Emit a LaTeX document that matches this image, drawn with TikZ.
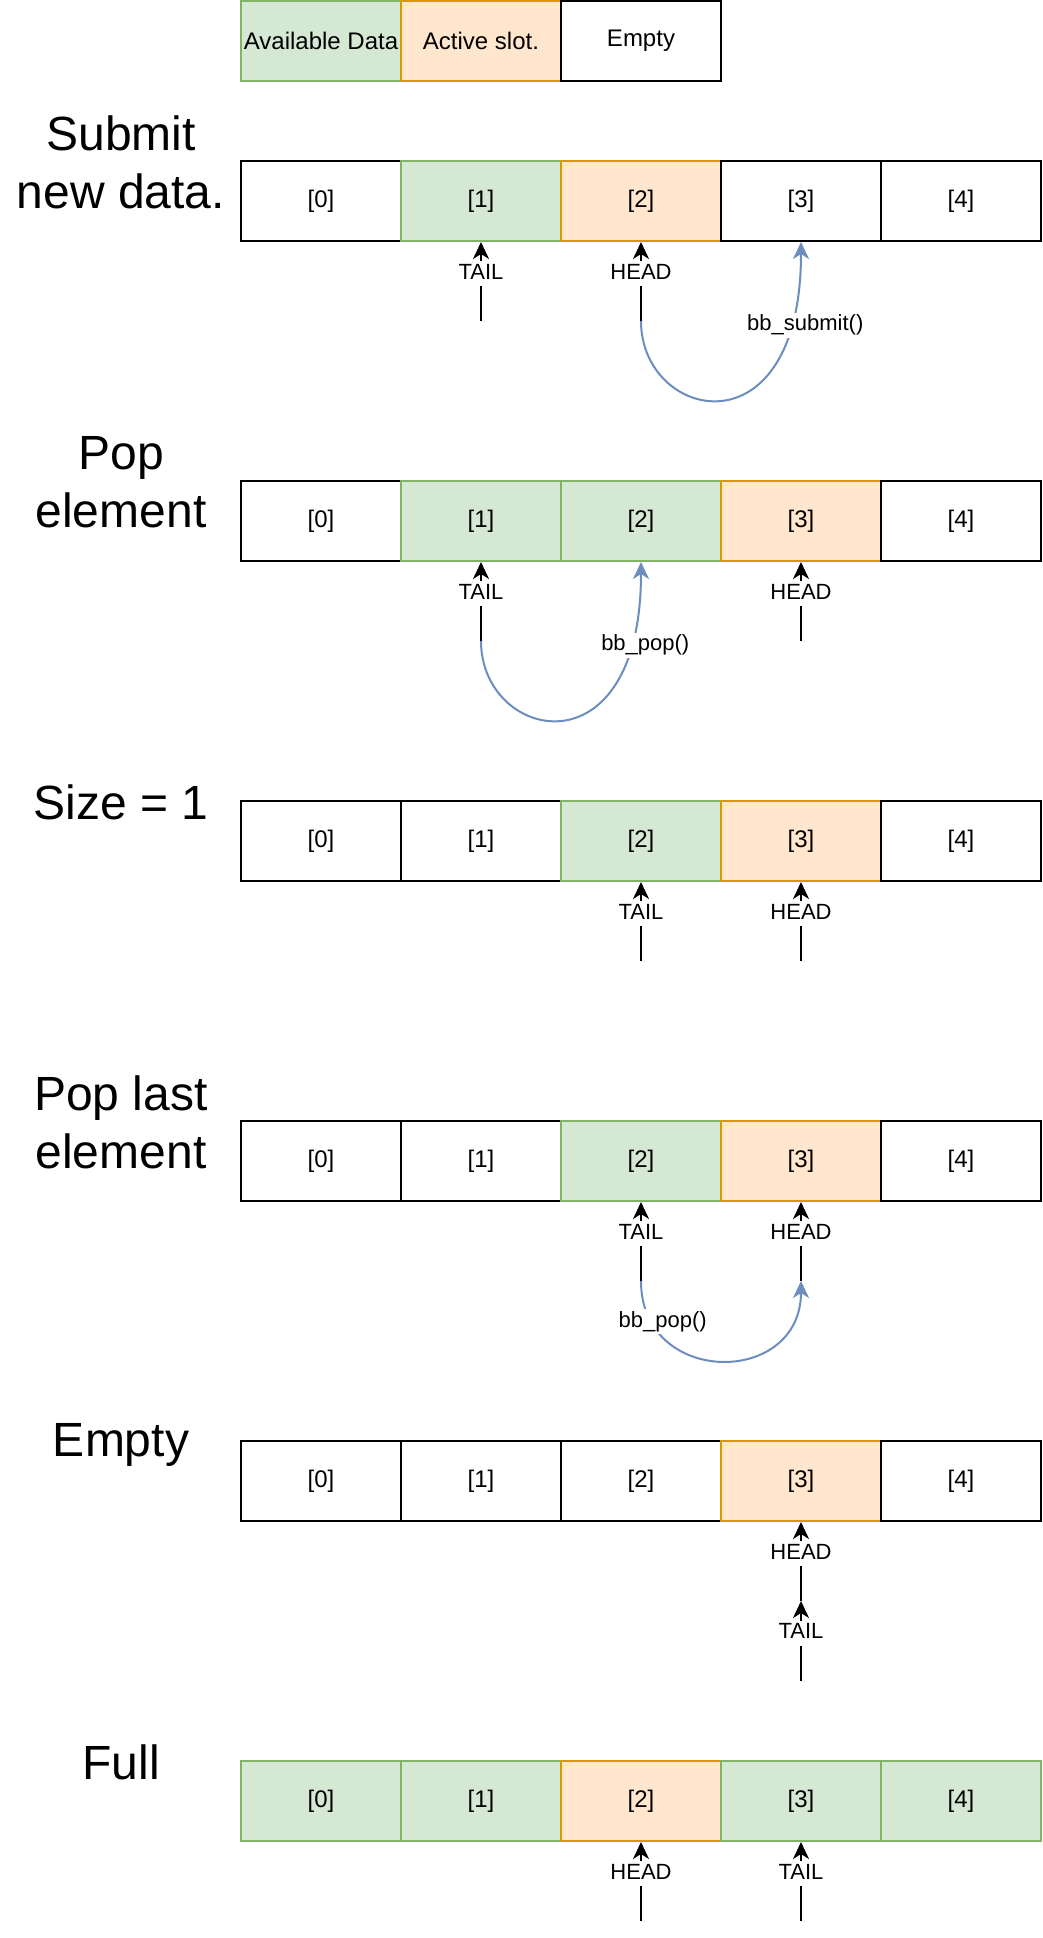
\documentclass[tikz,border=0pt]{standalone}
\usepackage{fontspec}
\setmainfont{Liberation Sans}
\usetikzlibrary{positioning,arrows.meta}

\definecolor{availfill}{HTML}{D5E8D4}
\definecolor{availline}{HTML}{82B366}
\definecolor{activefill}{HTML}{FFE6CC}
\definecolor{activeline}{HTML}{D79B00}
\definecolor{callline}{HTML}{6C8EBF}

\begin{document}
\begin{tikzpicture}[x=1pt, y=-1pt, >={Stealth[length=17pt,width=16pt,inset=5pt]}, node distance=160pt, on grid,
    cell/.style={draw, line width=2pt, minimum width=160pt, minimum height=80pt, inner sep=0pt, font=\fontsize{24}{28}\selectfont},
    avail/.style={cell, draw=availline, fill=availfill},
    active/.style={cell, draw=activeline, fill=activefill},
    title/.style={align=center, yshift=39pt, font=\fontsize{48}{58}\selectfont},
    lbl/.style={fill=white, text=black, inner sep=2pt, text height=16pt, text depth=5pt, font=\fontsize{22}{26}\selectfont},
    ptr/.style={->, line width=2pt},
    call/.style={->, line width=2pt, color=callline}]

    \useasboundingbox (0,0) rectangle (1042,1938);

    % Legende
    \node[avail] (L1) at (321,41) {Available Data};
    \node[active, right=of L1] (L2) {Active slot.};
    \node[cell, right=of L2] (L3) {Empty};

    % Submit
    \node[cell] (a0) at (321,201) {[0]};
    \node[avail, right=of a0] (a1) {[1]};
    \node[active, right=of a1] (a2) {[2]};
    \node[cell, right=of a2] (a3) {[3]};
    \node[cell, right=of a3] (a4) {[4]};
    \node[title, left=200pt of a0] (Ta) {Submit\\new data.};
    \coordinate[below=120pt of a1] (ta);
    \coordinate[below=120pt of a2] (ha);

    % Pop
    \node[cell, below=320pt of a0] (b0) {[0]};
    \node[avail, right=of b0] (b1) {[1]};
    \node[avail, right=of b1] (b2) {[2]};
    \node[active, right=of b2] (b3) {[3]};
    \node[cell, right=of b3] (b4) {[4]};
    \node[title, left=200pt of b0] (Tb) {Pop\\element};
    \coordinate[below=120pt of b1] (tb);
    \coordinate[below=120pt of b3] (hb);

    % Size = 1
    \node[cell, below=320pt of b0] (c0) {[0]};
    \node[cell, right=of c0] (c1) {[1]};
    \node[avail, right=of c1] (c2) {[2]};
    \node[active, right=of c2] (c3) {[3]};
    \node[cell, right=of c3] (c4) {[4]};
    \node[title, left=200pt of c0] (Tc) {Size = 1};
    \coordinate[below=120pt of c2] (tc);
    \coordinate[below=120pt of c3] (hc);

    % Pop last
    \node[cell, below=320pt of c0] (d0) {[0]};
    \node[cell, right=of d0] (d1) {[1]};
    \node[avail, right=of d1] (d2) {[2]};
    \node[active, right=of d2] (d3) {[3]};
    \node[cell, right=of d3] (d4) {[4]};
    \node[title, left=200pt of d0] (Td) {Pop last\\element};
    \coordinate[below=120pt of d2] (td);
    \coordinate[below=120pt of d3] (hd);

    % Empty
    \node[cell, below=320pt of d0] (e0) {[0]};
    \node[cell, right=of e0] (e1) {[1]};
    \node[cell, right=of e1] (e2) {[2]};
    \node[active, right=of e2] (e3) {[3]};
    \node[cell, right=of e3] (e4) {[4]};
    \node[title, left=200pt of e0, yshift=-3pt] (Te) {Empty};
    \coordinate[below=120pt of e3] (he);
    \coordinate[below=200pt of e3] (te);

    % Full
    \node[avail, below=320pt of e0] (f0) {[0]};
    \node[avail, right=of f0] (f1) {[1]};
    \node[active, right=of f1] (f2) {[2]};
    \node[avail, right=of f2] (f3) {[3]};
    \node[avail, right=of f3] (f4) {[4]};
    \node[title, left=200pt of f0] (Tf) {Full};
    \coordinate[below=120pt of f2] (hf);
    \coordinate[below=120pt of f3] (tf);

    % Aufrufe
    \path[call]
    (ha) edge[out=-90, in=-90, out distance=100pt, in distance=215pt] node[lbl, pos=0.85, xshift=14pt, yshift=-3pt] {bb\_submit()} (a3)
    (tb) edge[out=-90, in=-90, out distance=100pt, in distance=215pt] node[lbl, pos=0.85, xshift=14pt, yshift=-3pt] {bb\_pop()} (b2)
    (td) edge[out=-90, in=-90, out distance=106pt, in distance=106pt] node[lbl, pos=0.2, xshift=5pt, yshift=10pt] {bb\_pop()} (hd);

    % Zeiger
    \path[ptr]
    (ta) edge node[lbl, pos=0.6] {TAIL} (a1)
    (ha) edge node[lbl, pos=0.6] {HEAD} (a2)
    (tb) edge node[lbl, pos=0.6] {TAIL} (b1)
    (hb) edge node[lbl, pos=0.6] {HEAD} (b3)
    (tc) edge node[lbl, pos=0.6] {TAIL} (c2)
    (hc) edge node[lbl, pos=0.6] {HEAD} (c3)
    (td) edge node[lbl, pos=0.6] {TAIL} (d2)
    (hd) edge node[lbl, pos=0.6] {HEAD} (d3)
    (he) edge node[lbl, pos=0.6] {HEAD} (e3)
    (te) edge node[lbl, pos=0.6] {TAIL} (he)
    (hf) edge node[lbl, pos=0.6] {HEAD} (f2)
    (tf) edge node[lbl, pos=0.6] {TAIL} (f3);

\end{tikzpicture}
\end{document}
